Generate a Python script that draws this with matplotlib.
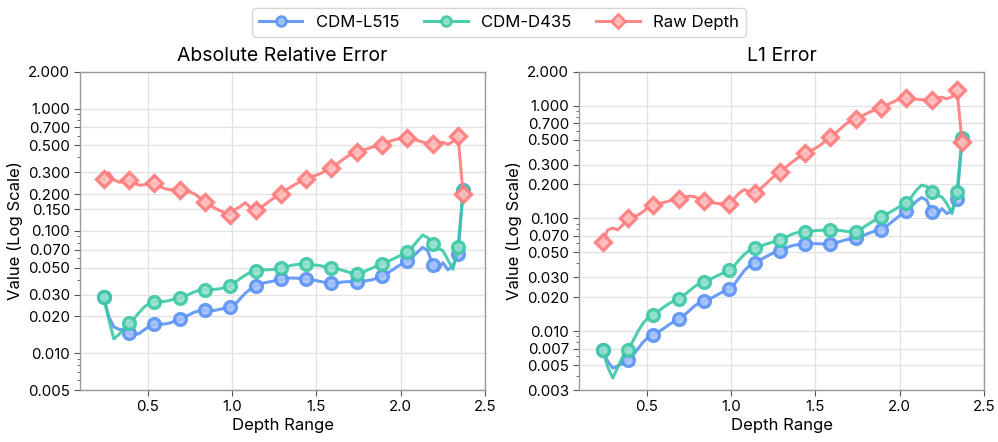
import matplotlib
matplotlib.use("Agg")
import matplotlib.pyplot as plt
from matplotlib.ticker import FixedLocator, FormatStrFormatter, NullFormatter, LogLocator
from matplotlib.lines import Line2D

plt.rcParams['font.family'] = ['Inter', 'DejaVu Sans']

depth = [round(0.24 + 0.03 * i, 2) for i in range(72)]

absrel_l515 = [0.0286, 0.0200, 0.0164, 0.0157, 0.0155, 0.0145, 0.0141, 0.0145, 0.0155, 0.0165,
               0.0172, 0.0174, 0.0173, 0.0176, 0.0183, 0.0189, 0.0197, 0.0207, 0.0217, 0.0223,
               0.0224, 0.0222, 0.0224, 0.0229, 0.0233, 0.0237, 0.0252, 0.0280, 0.0310, 0.0335,
               0.0356, 0.0370, 0.0378, 0.0385, 0.0393, 0.0402, 0.0410, 0.0412, 0.0410, 0.0408,
               0.0406, 0.0400, 0.0392, 0.0384, 0.0376, 0.0372, 0.0376, 0.0381, 0.0384, 0.0385,
               0.0384, 0.0388, 0.0392, 0.0398, 0.0410, 0.0427, 0.0450, 0.0478, 0.0510, 0.0540,
               0.0563, 0.0610, 0.0670, 0.0733, 0.0690, 0.0525, 0.0475, 0.0550, 0.0480, 0.0520,
               0.0643, 0.2150]
absrel_d435 = [0.0286, 0.0190, 0.0131, 0.0142, 0.0160, 0.0175, 0.0192, 0.0215, 0.0238, 0.0255,
               0.0263, 0.0265, 0.0265, 0.0270, 0.0277, 0.0282, 0.0292, 0.0305, 0.0318, 0.0328,
               0.0330, 0.0332, 0.0333, 0.0337, 0.0344, 0.0356, 0.0380, 0.0408, 0.0435, 0.0458,
               0.0472, 0.0478, 0.0480, 0.0482, 0.0487, 0.0493, 0.0505, 0.0522, 0.0530, 0.0532,
               0.0532, 0.0528, 0.0524, 0.0517, 0.0508, 0.0499, 0.0490, 0.0478, 0.0465, 0.0452,
               0.0444, 0.0455, 0.0475, 0.0495, 0.0518, 0.0538, 0.0560, 0.0585, 0.0612, 0.0640,
               0.0667, 0.0740, 0.0830, 0.0925, 0.0880, 0.0780, 0.0720, 0.0690, 0.0580, 0.0484,
               0.0741, 0.2100]
absrel_raw = [0.264, 0.299, 0.262, 0.250, 0.252, 0.260, 0.248, 0.236, 0.238, 0.243,
              0.246, 0.232, 0.222, 0.217, 0.216, 0.217, 0.214, 0.208, 0.200, 0.186,
              0.173, 0.162, 0.153, 0.146, 0.140, 0.136, 0.150, 0.158, 0.170, 0.155,
              0.148, 0.155, 0.166, 0.178, 0.190, 0.200, 0.215, 0.229, 0.242, 0.254,
              0.264, 0.278, 0.285, 0.296, 0.312, 0.328, 0.350, 0.376, 0.402, 0.425,
              0.438, 0.455, 0.468, 0.482, 0.495, 0.506, 0.528, 0.548, 0.562, 0.572,
              0.577, 0.565, 0.548, 0.532, 0.520, 0.513, 0.522, 0.530, 0.508, 0.538,
              0.596, 0.200]

l1_l515 = [0.00685, 0.0054, 0.0047, 0.0049, 0.0052, 0.00558, 0.0061, 0.0070, 0.0080, 0.0088,
           0.0092, 0.0098, 0.0105, 0.0113, 0.0121, 0.0127, 0.0137, 0.0150, 0.0165, 0.0177,
           0.0184, 0.0192, 0.0202, 0.0214, 0.0226, 0.0235, 0.0260, 0.0300, 0.0345, 0.0380,
           0.0403, 0.0425, 0.0450, 0.0475, 0.0500, 0.0514, 0.0540, 0.0565, 0.0580, 0.0588,
           0.0590, 0.0595, 0.0597, 0.0595, 0.0590, 0.0588, 0.0605, 0.0625, 0.0645, 0.0658,
           0.0663, 0.0690, 0.0720, 0.0750, 0.0775, 0.0796, 0.0850, 0.0920, 0.1000, 0.1090,
           0.116, 0.128, 0.142, 0.153, 0.145, 0.114, 0.106, 0.122, 0.110, 0.118,
           0.150, 0.505]
l1_d435 = [0.00685, 0.0048, 0.00383, 0.0048, 0.0060, 0.00682, 0.0082, 0.0100, 0.0118, 0.0132,
           0.0139, 0.0150, 0.0162, 0.0174, 0.0185, 0.0193, 0.0207, 0.0225, 0.0245, 0.0263,
           0.0273, 0.0285, 0.0300, 0.0315, 0.0330, 0.0347, 0.0380, 0.0430, 0.0480, 0.0520,
           0.0541, 0.0560, 0.0585, 0.0605, 0.0625, 0.0640, 0.0670, 0.0710, 0.0740, 0.0755,
           0.0759, 0.0770, 0.0778, 0.0782, 0.0788, 0.0796, 0.0790, 0.0780, 0.0768, 0.0760,
           0.0759, 0.0800, 0.0860, 0.0920, 0.0975, 0.102, 0.108, 0.115, 0.122, 0.130,
           0.136, 0.155, 0.178, 0.197, 0.192, 0.170, 0.160, 0.155, 0.135, 0.110,
           0.172, 0.512]
l1_raw = [0.0618, 0.0790, 0.0820, 0.0790, 0.0880, 0.0998, 0.1040, 0.1070, 0.1150, 0.1250,
          0.131, 0.134, 0.138, 0.142, 0.146, 0.149, 0.154, 0.157, 0.156, 0.150,
          0.144, 0.140, 0.137, 0.135, 0.134, 0.134, 0.150, 0.168, 0.180, 0.172,
          0.168, 0.180, 0.197, 0.218, 0.240, 0.256, 0.280, 0.305, 0.330, 0.355,
          0.377, 0.395, 0.418, 0.447, 0.485, 0.523, 0.570, 0.625, 0.685, 0.735,
          0.760, 0.800, 0.845, 0.885, 0.925, 0.953, 1.00, 1.06, 1.11, 1.15,
          1.16, 1.15, 1.14, 1.13, 1.12, 1.12, 1.16, 1.19, 1.15, 1.20,
          1.37, 0.472]

series_names = ["CDM-L515", "CDM-D435", "Raw Depth"]
colors = ["#5B93F5", "#3CC8A6", "#FF7B7B"]
faces = ["#A3C2FA", "#93E0CD", "#FFBDBD"]
markers = ["o", "o", "D"]

panels = [
    ("Absolute Relative Error", [absrel_l515, absrel_d435, absrel_raw],
     [0.005, 0.01, 0.02, 0.03, 0.05, 0.07, 0.1, 0.15, 0.2, 0.3, 0.5, 0.7, 1.0, 2.0], (0.005, 2.0)),
    ("L1 Error", [l1_l515, l1_d435, l1_raw],
     [0.003, 0.005, 0.007, 0.01, 0.02, 0.03, 0.05, 0.07, 0.1, 0.2, 0.3, 0.5, 0.7, 1.0, 2.0], (0.003, 2.0)),
]

mark_idx = list(range(0, 71, 5)) + [71]

fig = plt.figure(figsize=(9.98, 4.42), dpi=100)
axes = [fig.add_axes([0.0802, 0.1176, 0.4058, 0.7202]),
        fig.add_axes([0.5802, 0.1176, 0.4058, 0.7202])]

for ax, (title, data, yt, ylim) in zip(axes, panels):
    for vals, c, fc, m in zip(data, colors, faces, markers):
        ax.plot(depth, vals, color=c, lw=2.2, alpha=0.9, marker=m, markevery=mark_idx,
                markersize=8.5 if m == "o" else 8, markerfacecolor=fc, markeredgecolor=c,
                markeredgewidth=2.4)
    ax.set_yscale("log")
    ax.set_ylim(*ylim)
    ax.set_xlim(0.1, 2.5)
    ax.set_xticks([0.5, 1.0, 1.5, 2.0, 2.5])
    ax.yaxis.set_major_locator(FixedLocator(yt))
    ax.yaxis.set_major_formatter(FormatStrFormatter("%.3f"))
    ax.yaxis.set_minor_locator(LogLocator(base=10, subs=range(2, 10)))
    ax.yaxis.set_minor_formatter(NullFormatter())
    ax.grid(True, which="major", color="#e3e3e3", lw=1.0)
    ax.set_axisbelow(True)
    for s in ax.spines.values():
        s.set_color("#999999")
        s.set_linewidth(1.0)
    ax.tick_params(axis="both", which="major", labelsize=10.8, length=4, color="#555555", pad=3)
    ax.tick_params(axis="y", which="minor", length=2, color="#555555")
    ax.set_title(title, fontsize=14, pad=8)
    ax.set_xlabel("Depth Range", fontsize=12, labelpad=3)
    ax.set_ylabel("Value (Log Scale)", fontsize=12, labelpad=4)

handles = [Line2D([], [], color=c, lw=2.2, alpha=0.9, marker=m, markersize=7,
                  markerfacecolor=fc, markeredgecolor=c, markeredgewidth=2)
           for c, fc, m in zip(colors, faces, markers)]
fig.legend(handles, series_names, loc="upper center", bbox_to_anchor=(0.5, 1.0), ncol=3,
           fontsize=12, frameon=True, edgecolor="#cccccc", fancybox=True,
           handlelength=2.6, columnspacing=1.5, borderpad=0.4)

fig.savefig("out.png", dpi=100)
